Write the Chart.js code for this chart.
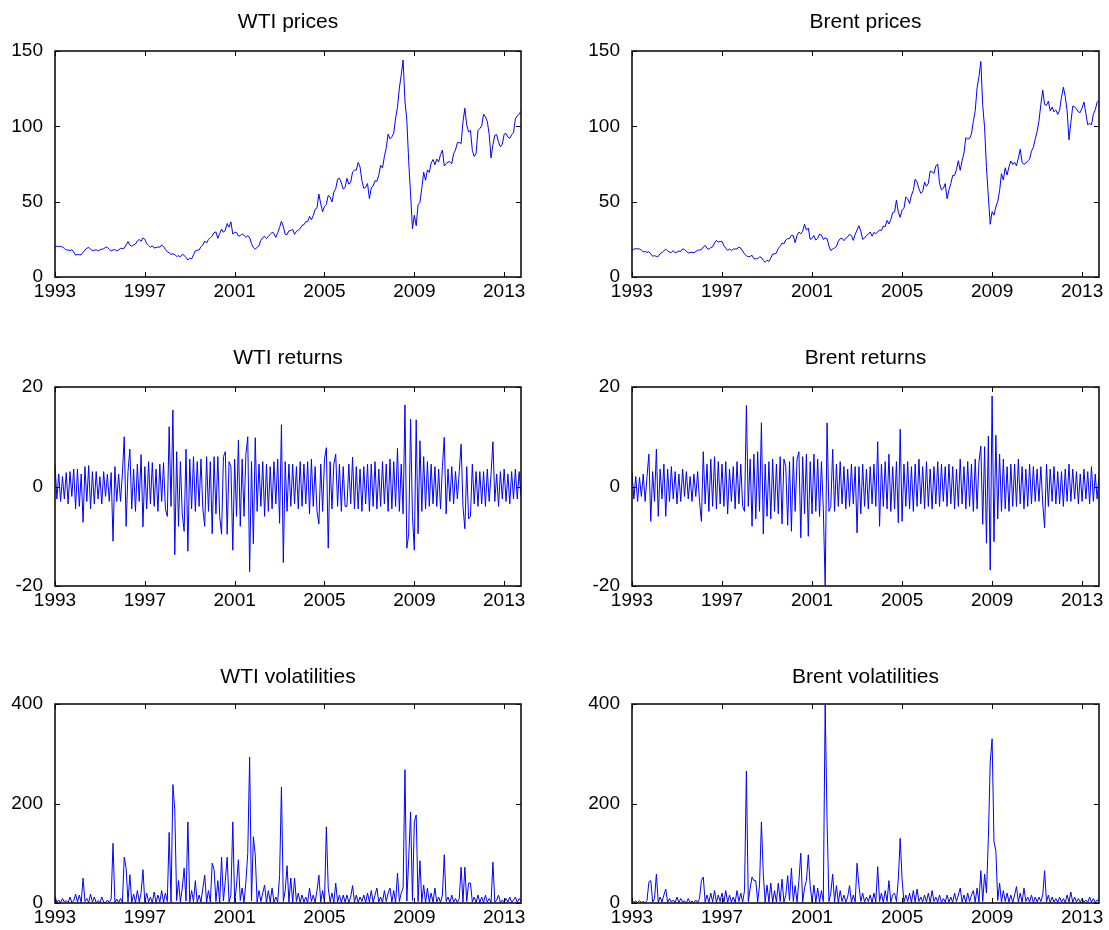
<!DOCTYPE html>
<html>
<head>
<meta charset="utf-8">
<script src="https://cdn.jsdelivr.net/npm/chart.js@4/dist/chart.umd.min.js"></script>
<style>
html, body { margin: 0; padding: 0; background: #ffffff; }
#wrap { position: relative; width: 1109px; height: 930px; background: #ffffff; overflow: hidden; }
#wrap canvas { position: absolute; }
</style>
</head>
<body>
<div id="wrap"></div>
<script>
// ---------- data (monthly observations starting January 1993) ----------
const startYear = 1993;
const xTickYears = [1993, 1997, 2001, 2005, 2009, 2013];
const priceTicks = [0, 50, 100, 150];
const returnTicks = [-20, 0, 20];
const volTicks = [0, 200, 400];

const wtiPrice = [
  19.9, 20.4, 20.3, 20.3, 19.9, 19.1, 17.9, 18.0, 17.5, 18.1, 16.7, 14.5,
  15.0, 14.8, 14.7, 16.4, 17.9, 19.1, 19.7, 18.4, 17.5, 17.7, 18.1, 17.2,
  18.0, 18.5, 18.6, 19.9, 19.7, 18.4, 17.3, 18.0, 18.2, 17.4, 18.0, 19.0,
  18.9, 19.1, 21.3, 23.5, 21.2, 20.4, 21.3, 21.9, 23.9, 24.9, 23.7, 25.9,
  25.1, 22.2, 20.9, 19.7, 20.8, 19.2, 19.6, 19.9, 19.8, 21.3, 20.2, 18.3,
  16.7, 16.1, 15.0, 15.4, 14.9, 13.7, 14.1, 13.4, 15.0, 14.4, 12.9, 11.3,
  12.5, 12.0, 14.7, 17.3, 17.8, 17.9, 20.1, 21.3, 23.9, 22.6, 25.0, 26.1,
  27.2, 29.4, 29.9, 25.7, 28.8, 31.8, 29.7, 31.2, 35.5, 33.1, 36.5, 28.5,
  29.6, 29.6, 27.2, 27.4, 28.6, 27.6, 26.4, 27.4, 26.2, 22.2, 19.6, 18.5,
  19.7, 20.7, 24.4, 26.2, 27.0, 25.5, 26.9, 28.4, 29.7, 28.9, 26.3, 29.4,
  32.9, 37.0, 33.6, 28.3, 28.1, 30.7, 30.8, 31.6, 28.3, 30.3, 31.1, 32.1,
  34.3, 34.7, 36.7, 36.7, 40.3, 38.0, 40.8, 44.9, 45.9, 55.0, 48.5, 43.3,
  46.8, 48.1, 54.2, 53.0, 49.8, 56.3, 58.7, 64.9, 65.6, 62.4, 58.3, 59.4,
  65.5, 61.6, 62.9, 69.7, 70.9, 70.9, 76.0, 73.0, 63.8, 58.9, 59.4, 62.0,
  52.0, 59.3, 60.4, 63.9, 63.5, 67.5, 74.1, 72.4, 79.9, 85.8, 94.8, 91.7,
  93.0, 95.4, 105.5, 112.6, 125.4, 134.0, 144.0, 116.7, 104.1, 76.6, 55.0, 32.0,
  41.0, 34.0, 47.9, 49.6, 59.0, 69.6, 64.2, 71.1, 69.4, 75.7, 78.0, 74.5,
  78.3, 76.4, 81.2, 84.3, 73.7, 75.3, 76.3, 76.6, 75.2, 81.9, 84.3, 89.2,
  89.2, 88.6, 102.9, 112.0, 100.9, 96.3, 97.3, 84.0, 80.0, 82.0, 97.2, 98.6,
  100.3, 108.0, 106.2, 103.3, 94.7, 79.0, 87.9, 94.1, 94.5, 89.5, 86.5, 87.9,
  94.8, 95.3, 92.9, 92.0, 94.5, 95.8, 105.0, 107.0, 108.0, 110.0
];

const brentPrice = [
  17.4, 18.5, 18.8, 18.7, 18.6, 17.8, 16.7, 16.9, 16.3, 16.8, 15.3, 13.7,
  14.2, 13.6, 13.7, 15.4, 16.3, 17.4, 18.5, 17.4, 16.4, 16.4, 17.5, 16.0,
  16.6, 17.2, 17.0, 18.7, 18.2, 17.1, 15.9, 16.3, 16.4, 16.1, 16.9, 17.7,
  18.0, 18.1, 19.9, 21.0, 19.0, 18.4, 19.5, 20.0, 22.6, 24.3, 23.2, 23.6,
  23.5, 20.6, 19.2, 17.6, 18.6, 17.6, 18.5, 18.6, 18.6, 19.9, 19.2, 17.2,
  15.4, 14.1, 13.4, 13.7, 14.4, 12.1, 12.1, 12.1, 13.4, 12.9, 11.0, 9.8,
  11.1, 10.3, 12.5, 15.3, 15.3, 15.9, 19.1, 20.3, 22.5, 22.0, 24.6, 25.5,
  25.5, 27.8, 27.5, 22.8, 27.6, 29.8, 28.6, 30.4, 35.0, 31.1, 32.5, 25.0,
  25.6, 27.5, 24.5, 25.6, 28.5, 27.8, 24.9, 25.9, 25.6, 20.5, 17.5, 18.5,
  19.4, 20.2, 23.7, 25.4, 25.7, 24.1, 25.7, 26.6, 28.4, 27.5, 24.3, 28.3,
  31.2, 34.0, 30.4, 25.0, 25.8, 27.6, 28.4, 29.9, 27.1, 29.6, 28.8, 29.8,
  31.2, 30.9, 33.8, 33.4, 37.6, 35.2, 38.2, 42.7, 43.2, 51.0, 43.1, 39.6,
  44.5, 45.5, 53.1, 51.9, 48.7, 54.3, 57.5, 65.0, 62.9, 58.5, 55.5, 56.7,
  63.0, 60.2, 62.1, 70.3, 69.8, 68.7, 73.7, 75.0, 62.0, 57.8, 58.8, 62.0,
  52.0, 57.8, 62.1, 67.4, 67.5, 71.3, 77.2, 70.8, 77.1, 82.3, 92.5, 91.5,
  92.0, 94.8, 103.3, 110.4, 125.5, 133.0, 143.0, 113.9, 99.1, 72.7, 53.2, 35.0,
  43.4, 41.0, 46.5, 50.2, 57.3, 68.6, 64.4, 72.5, 67.7, 73.2, 77.0, 74.7,
  76.2, 73.8, 78.8, 84.8, 75.9, 74.8, 75.6, 77.1, 78.2, 83.5, 86.1, 91.5,
  96.5, 103.7, 114.6, 124.0, 114.5, 113.9, 116.7, 110.2, 112.8, 109.6, 110.8, 107.9,
  110.7, 119.3, 126.0, 119.8, 110.3, 91.0, 102.6, 113.4, 113.0, 111.5, 109.5, 109.2,
  112.3, 116.1, 108.5, 101.0, 102.0, 101.0, 108.0, 111.0, 116.0, 117.0
];

const wtiReturn = [
  4.5, -2.5, 2.5, -3, 2, -2.5, 2.8, -3.5, 3, -2, 3.5, -4.5,
  3.5, -4, 2.5, -7.2, 4, -3, 4.2, -4.5, 3, -3.5, 3, -2.5,
  2, -3.5, 3, -2, 2.5, -3, 2.8, -11, 4, -3, 2.5, -3,
  2.5, 10, -8, 3, 7.5, -4.5, 3.5, -5, 4.5, -3, 6.4, -8.1,
  4, -4.5, 5, -3.5, 4.8, -4, 3.5, -5, 4.5, -3, 4.8, -4.5,
  -6, 12, -4, 15.4, -13.7, 7, -8, 5, -5.5, -9, 7.5, -13,
  5.5, -4.5, 6, -5, 5, -4, 5.5, -4.5, -8, 6, -5, 5,
  -9.5, 6, -5.5, 6, -6, -9.6, 6, 7, -9.6, 5, 4, -12.8,
  5.5, -6, 9.3, -8, 5.5, -6, 6.5, 10, -17.1, 5, -11.5, 9.8,
  -5, 4.5, -4, 5, -6, 4.5, -5, 4, -4.5, 5, -3.5, 5.5,
  -7.4, 12.4, -15.3, 5, -5, 4.5, -4, 4.5, -3.5, 4, -4.5, 5,
  -4, 4.5, -3.5, 5, -5.5, 5.5, -4, 4, -5, -7.5, 4.5, -5,
  5.5, 7.8, -12.4, 5, -4.5, 4.5, 6.5, -4, 4.5, -5, 4, -4,
  -4, 4.5, -3.5, 5.9, -4.5, 4, -4.5, 3.5, -5, 4, -3.5, 4.5,
  -5, 4.5, -4, 5, -4.5, 3.5, -4, 5, -3.5, 4.5, -5, 5.5,
  -4.5, 5, -4, 7.7, -5, 4.5, -5.5, 16.4, -12.4, -9.5, 13.5, -6,
  -12.8, 13.4, -9.5, 9.2, -5, 6, -4.5, 5, -4, 4.5, -3.5, 4,
  -4, 3.5, -4.5, 4, 9.9, -5.5, 3.5, -3, 4, -3.5, 3, -2.5,
  3, 8.5, -4, -8.5, 4, -6.5, -6, 4.5, -3.5, 3, -4, 3,
  -3.5, 3, -4, 3.5, -3, 2.5, 9, -3, 2.5, -4, 3, -2.5,
  3.5, -3, 2.5, -3.5, 3, -2.5, 3.5, -2.5, 3, -2
];

const brentReturn = [
  2.8, -2.5, 2, -3, 1.8, -2, 2.5, -3, 2, 6.5, -7, 3,
  -3, 7.5, -6, 3.5, -2.5, 4.5, -6, 3.5, -3, 4, -2.5, 3,
  -3.5, 2.5, -3, 3.5, -2, 3, -2.5, 2, -3, 2.5, -2, 3,
  -3, -7, 7, -3.5, 4.5, -5, 5.5, -4, 6, -4.5, 5, -3.5,
  4.5, -4, 5, -5.5, 3.5, -3, 4, -4.5, 5, -3.5, 4.5, -4,
  -5, 16.3, -4, 5.5, -8, 6.5, -6.5, 7, -5, 12.8, -9.5, 4.5,
  -6, 5, -6.5, 5.5, -5, 4.5, -5.5, 6, -7.5, 5.5, 4, -7.8,
  5, -9, 6, -5, 5.5, 7, -10.3, 6, -5.5, 6.5, -10, 5,
  -5.5, 6.5, -5, 5.5, -6, 5, -4.5, -20, 12.8, -5, -4, 7.5,
  -5, 4.5, -4, 5, -3.5, 4, -4.5, 3.5, -4, 4.5, -3.5, 4,
  -9.3, 4, -5.5, 4.5, -4, 3.5, -4.5, 4, -3.5, 4.5, -4, 9,
  -8, 4.5, -4, 5, -4.5, 6.5, -5, 4, -4.5, 5, -7.3, 11.5,
  -7, 4.5, -4, 5, -4.5, 4, -5, 4.5, -4, 5.5, -3.5, 4,
  -4.5, 5, -4, 3.5, -4.5, 4, -3.5, 5, -4, 4.5, -3, 4,
  -4, 4.5, -3.5, 4, -4.5, 3.5, -4, 5.5, -3.5, 4, -4.5, 5,
  -4, 4.5, -5, 5.5, -4.5, 5, 8.1, -7.6, 8, -11.4, 10.1, -16.8,
  18.2, -11.1, 10.3, -6.5, 6.5, -5, 5.5, -4.5, 4, -5, 4.5, -4,
  4.5, -4, 5.5, -3.5, 4, -4.5, 3.5, -4, 4.5, -3.5, 4, -3,
  3.5, -3, 4, -3.5, -8.3, 4.5, -4, 3.5, -3, 4, -3.5, 3,
  -3.5, 3, -4, 3.5, -3, 4.5, -3, 3.5, -2.5, 3, -3.5, 2.5,
  -3, 3.5, -2.5, 3, -3.5, 4, -3, 2.5, -2.5, 2
];

const wtiVol = [
  14, 1, 6, 0.5, 9, 2, 5, 0.5, 12, 1, 4, 18,
  2, 16, 1, 50, 3, 9, 1, 18, 2, 12, 0.5, 5,
  1, 12, 2, 0.5, 6, 1, 8, 120, 1, 8, 0.5, 9,
  1, 92, 70, 2, 57, 1, 18, 0.5, 25, 2, 20, 67,
  1, 20, 2, 12, 0.5, 22, 1, 16, 2, 25, 1, 20,
  3, 142, 2, 238, 188, 5, 45, 2, 30, 70, 4, 163,
  2, 25, 3, 45, 1, 16, 2, 30, 56, 1, 25, 2,
  80, 67, 3, 45, 1, 92, 4, 45, 92, 2, 16, 163,
  2, 36, 87, 5, 30, 1, 42, 100, 293, 4, 133, 97,
  2, 25, 3, 20, 36, 1, 25, 2, 30, 1, 12, 2,
  55, 233, 3, 25, 75, 2, 50, 1, 50, 3, 20, 1,
  16, 2, 12, 1, 30, 3, 16, 1, 25, 56, 2, 25,
  1, 153, 30, 2, 20, 1, 40, 2, 16, 1, 16, 2,
  16, 1, 12, 35, 2, 16, 1, 12, 3, 16, 1, 20,
  2, 25, 1, 16, 30, 2, 12, 1, 25, 3, 20, 30,
  2, 25, 1, 60, 3, 20, 30, 268, 4, 90, 183, 5,
  163, 177, 3, 85, 2, 36, 1, 30, 2, 20, 1, 30,
  2, 12, 1, 16, 97, 3, 12, 1, 16, 2, 9, 1,
  9, 72, 2, 72, 3, 40, 40, 2, 12, 1, 16, 1,
  12, 1, 16, 2, 9, 1, 82, 2, 6, 16, 1, 6,
  1, 9, 2, 12, 1, 6, 12, 1, 9, 4
];

const brentVol = [
  6, 1, 4, 0.5, 5, 1, 3, 0.5, 5, 42, 45, 2,
  9, 58, 1, 12, 2, 16, 28, 1, 9, 2, 6, 1,
  12, 1, 9, 2, 4, 0.5, 9, 1, 4, 0.5, 6, 1,
  9, 45, 52, 2, 16, 1, 20, 2, 25, 1, 16, 3,
  20, 2, 25, 1, 16, 2, 12, 1, 25, 3, 20, 2,
  25, 265, 3, 30, 52, 45, 45, 2, 36, 163, 58, 2,
  36, 2, 40, 1, 25, 2, 40, 3, 48, 2, 16, 55,
  5, 70, 3, 35, 2, 45, 100, 2, 30, 45, 97, 35,
  2, 36, 1, 30, 2, 25, 3, 400, 167, 3, 20, 58,
  2, 35, 1, 25, 3, 16, 2, 12, 35, 1, 16, 2,
  80, 35, 3, 20, 2, 12, 3, 16, 1, 20, 2, 73,
  3, 20, 1, 25, 3, 45, 2, 16, 20, 3, 48, 130,
  48, 2, 16, 3, 20, 1, 25, 2, 28, 3, 12, 2,
  16, 2, 20, 1, 25, 3, 12, 2, 16, 1, 9, 2,
  16, 2, 12, 1, 20, 3, 16, 30, 2, 16, 1, 20,
  3, 16, 25, 2, 30, 2, 65, 3, 58, 20, 130, 283,
  330, 123, 105, 5, 40, 2, 25, 3, 20, 2, 16, 1,
  16, 33, 2, 20, 1, 30, 3, 12, 2, 16, 1, 12,
  2, 12, 3, 16, 65, 2, 16, 1, 12, 2, 9, 1,
  12, 2, 9, 1, 16, 2, 22, 1, 12, 2, 9, 1,
  9, 2, 6, 1, 12, 2, 9, 1, 6, 4
];

const titles = ['WTI prices', 'Brent prices', 'WTI returns', 'Brent returns', 'WTI volatilities', 'Brent volatilities'];

// ---------- layout ----------
const FONT = "'Liberation Sans', Arial, Helvetica, sans-serif";
const TITLE_SIZE = 21;
const TICK_SIZE = 19;
const X_MAX = 2013.75;
const cols = [
  { canvasLeft: 0,   canvasWidth: 545, plotLeft: 55,  plotRight: 521 },
  { canvasLeft: 560, canvasWidth: 549, plotLeft: 632, plotRight: 1099 }
];
const rows = [
  { canvasTop: 0,   canvasHeight: 318, plotTop: 51,  plotBottom: 277, titleCenter: 22 },
  { canvasTop: 318, canvasHeight: 308, plotTop: 387, plotBottom: 586, titleCenter: 358 },
  { canvasTop: 630, canvasHeight: 300, plotTop: 704, plotBottom: 903, titleCenter: 677 }
];

const panels = [
  { title: titles[0], values: wtiPrice,    ticks: priceTicks,  min: 0,   max: 150, col: 0, row: 0 },
  { title: titles[1], values: brentPrice,  ticks: priceTicks,  min: 0,   max: 150, col: 1, row: 0 },
  { title: titles[2], values: wtiReturn,   ticks: returnTicks, min: -20, max: 20,  col: 0, row: 1 },
  { title: titles[3], values: brentReturn, ticks: returnTicks, min: -20, max: 20,  col: 1, row: 1 },
  { title: titles[4], values: wtiVol,      ticks: volTicks,    min: 0,   max: 400, col: 0, row: 2 },
  { title: titles[5], values: brentVol,    ticks: volTicks,    min: 0,   max: 400, col: 1, row: 2 }
];

// frame + inward tick marks (MATLAB box style)
const frameTicks = {
  id: 'frameTicks',
  afterDatasetsDraw(chart) {
    const { ctx, chartArea: a, scales: { x, y } } = chart;
    const L = 5;
    ctx.save();
    ctx.strokeStyle = '#000';
    ctx.lineWidth = 1;
    ctx.beginPath();
    x.ticks.forEach(t => {
      const px = Math.round(x.getPixelForValue(t.value)) + 0.5;
      ctx.moveTo(px, a.bottom); ctx.lineTo(px, a.bottom - L);
      ctx.moveTo(px, a.top); ctx.lineTo(px, a.top + L);
    });
    y.ticks.forEach(t => {
      const py = Math.round(y.getPixelForValue(t.value)) + 0.5;
      ctx.moveTo(a.left, py); ctx.lineTo(a.left + L, py);
      ctx.moveTo(a.right, py); ctx.lineTo(a.right - L, py);
    });
    ctx.stroke();
    ctx.lineWidth = 1.6;
    ctx.strokeStyle = '#111';
    ctx.strokeRect(a.left, a.top, a.right - a.left, a.bottom - a.top);
    ctx.restore();
  }
};

Chart.defaults.font.family = FONT;
Chart.defaults.color = '#000';

const wrap = document.getElementById('wrap');
const lh = TITLE_SIZE * 1.2;

panels.forEach(p => {
  const c = cols[p.col], r = rows[p.row];
  const cv = document.createElement('canvas');
  cv.width = c.canvasWidth; cv.height = r.canvasHeight;
  cv.style.left = c.canvasLeft + 'px'; cv.style.top = r.canvasTop + 'px';
  cv.style.width = c.canvasWidth + 'px'; cv.style.height = r.canvasHeight + 'px';
  wrap.appendChild(cv);

  const points = p.values.map((v, i) => ({ x: startYear + i / 12, y: v }));
  const padTop = r.titleCenter - r.canvasTop - lh / 2;
  const padBottom = r.plotTop - r.titleCenter - lh / 2;
  const yW = c.plotLeft - c.canvasLeft;
  const xH = r.canvasTop + r.canvasHeight - r.plotBottom;

  new Chart(cv, {
    type: 'line',
    data: { datasets: [{ data: points, borderColor: '#0000ff', borderWidth: 1, pointRadius: 0, tension: 0, fill: false }] },
    options: {
      responsive: false,
      animation: false,
      devicePixelRatio: 1,
      layout: { padding: { left: 0, top: 0, bottom: 0, right: c.canvasLeft + c.canvasWidth - c.plotRight } },
      plugins: {
        legend: { display: false },
        tooltip: { enabled: false },
        title: {
          display: true, text: p.title, fullSize: false, color: '#000',
          font: { family: FONT, size: TITLE_SIZE, weight: 'normal', lineHeight: 1.2 },
          padding: { top: padTop, bottom: padBottom }
        }
      },
      scales: {
        x: {
          type: 'linear', position: 'bottom', min: startYear, max: X_MAX,
          grid: { display: false, drawTicks: false }, border: { display: false },
          afterBuildTicks: s => { s.ticks = xTickYears.map(v => ({ value: v })); },
          afterFit: s => { s.height = xH; },
          ticks: { autoSkip: false, maxRotation: 0, minRotation: 0, padding: 3, color: '#000',
                   font: { family: FONT, size: TICK_SIZE }, callback: v => String(v) }
        },
        y: {
          type: 'linear', position: 'left', min: p.min, max: p.max,
          grid: { display: false, drawTicks: false }, border: { display: false },
          afterBuildTicks: s => { s.ticks = p.ticks.map(v => ({ value: v })); },
          afterFit: s => { s.width = yW; },
          ticks: { autoSkip: false, padding: 12, color: '#000',
                   font: { family: FONT, size: TICK_SIZE }, callback: v => String(v) }
        }
      }
    },
    plugins: [frameTicks]
  });
});
</script>
</body>
</html>
